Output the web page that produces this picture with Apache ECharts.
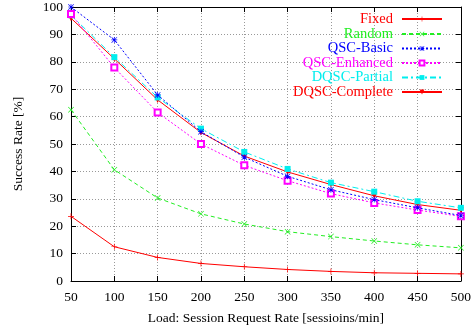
<!DOCTYPE html>
<html><head><meta charset="utf-8">
<script src="https://cdn.jsdelivr.net/npm/echarts@6/dist/echarts.min.js"></script>
<style>html,body{margin:0;padding:0;background:#fff}#c{width:474px;height:333px}</style>
</head><body><div id="c"></div>
<script>
const xValues = [50, 100, 150, 200, 250, 300, 350, 400, 450, 500];
const seriesNames = ['Fixed', 'Random', 'QSC-Basic', 'QSC-Enhanced', 'DQSC-Partial', 'DQSC-Complete'];
const fixed = [23.6, 12.5, 8.6, 6.4, 5.2, 4.2, 3.5, 3.0, 2.8, 2.6];
const random = [62.5, 40.6, 30.3, 24.5, 20.8, 18.0, 16.2, 14.6, 13.2, 12.1];
const qscBasic = [100, 88.0, 67.9, 54.5, 45.2, 38.2, 33.3, 29.7, 26.7, 23.9];
const qscEnhanced = [97.4, 77.9, 61.5, 50.0, 42.2, 36.6, 31.9, 28.5, 25.9, 23.6];
const dqscPartial = [97.0, 81.7, 67.0, 55.6, 47.1, 40.9, 35.9, 32.6, 29.1, 26.7];
const dqscComplete = [95.9, 81.1, 66.1, 54.2, 45.6, 39.8, 35.2, 31.1, 27.9, 25.8];
const yTitle = 'Success Rate [%]';
const xTitle = 'Load: Session Request Rate [sessioins/min]';

const allData = [fixed, random, qscBasic, qscEnhanced, dqscPartial, dqscComplete];
const colors = ['#ff0000', '#22ee22', '#0000ff', '#ff00ff', '#00eeee', '#ff0000'];
const lineTypes = ['solid', [4, 3], [2, 2], [2, 2], [6, 3, 2, 3], 'solid'];
const plusPath = 'path://M4.4,0h1.2v10h-1.2z M0,4.4h10v1.2h-10z';
const crossPath = 'path://M0.8,0L10,9.2L9.2,10L0,0.8z M9.2,0L10,0.8L0.8,10L0,9.2z';
const starPath = 'path://M4.4,0h1.2v10h-1.2z M0,4.4h10v1.2h-10z M0.8,0L10,9.2L9.2,10L0,0.8z M9.2,0L10,0.8L0.8,10L0,9.2z';
const downTriPath = 'path://M0,0L10,0L5,9z';
const symbols = [plusPath, crossPath, starPath, 'emptyRect', 'rect', downTriPath];
const symbolSizes = [6, 6, 6, 6, 6, 6];
const font = 'Liberation Serif';

const series = seriesNames.map((name, i) => ({
  name: name,
  type: 'line',
  data: xValues.map((x, j) => [x, allData[i][j]]),
  symbol: symbols[i],
  symbolSize: symbolSizes[i],
  showAllSymbol: true,
  lineStyle: { color: colors[i], width: 1, type: lineTypes[i] },
  itemStyle: { color: colors[i], borderColor: colors[i], borderWidth: i === 3 ? 1 : 0 },
  emphasis: { disabled: true },
  animation: false,
  z: 10 - i
}));

const legendCenters = [19, 34, 48.5, 63, 77.5, 92];
const legends = seriesNames.map((name, i) => ({
  data: [name],
  right: 31,
  top: legendCenters[i] - 7.5,
  orient: 'vertical',
  align: 'right',
  padding: 0,
  itemWidth: 40,
  itemHeight: 6,
  selectedMode: false,
  textStyle: { color: colors[i], fontFamily: font, fontSize: 14.5, lineHeight: 15, padding: [0, 4, 0, 0] }
}));

const axisCommon = {
  type: 'value',
  axisLine: { show: true, onZero: false, lineStyle: { color: '#000', width: 1 } },
  axisTick: { show: true, inside: true, length: 5, lineStyle: { color: '#000' } },
  axisLabel: { color: '#000', fontFamily: font, fontSize: 13.5 }
};

const option = {
  animation: false,
  backgroundColor: '#fff',
  grid: { left: 71, right: 13, top: 7, bottom: 52, containLabel: false },
  legend: legends,
  xAxis: [
    Object.assign({}, axisCommon, {
      min: 50, max: 500, interval: 50, position: 'bottom',
      name: xTitle, nameLocation: 'middle', nameGap: 30,
      nameTextStyle: { color: '#000', fontFamily: font, fontSize: 13.5 },
      axisLabel: { color: '#000', fontFamily: font, fontSize: 13.5, margin: 9 },
      splitLine: { show: true, lineStyle: { color: '#999', type: [1, 2], width: 1 } }
    }),
    Object.assign({}, axisCommon, {
      min: 50, max: 500, interval: 50, position: 'top',
      axisLabel: { show: false }, splitLine: { show: false }
    })
  ],
  yAxis: [
    Object.assign({}, axisCommon, {
      min: 0, max: 100, interval: 10, position: 'left',
      name: yTitle, nameLocation: 'middle', nameGap: 46, nameRotate: 90,
      nameTextStyle: { color: '#000', fontFamily: font, fontSize: 13.5 },
      axisLabel: { color: '#000', fontFamily: font, fontSize: 13.5, margin: 8 },
      splitLine: { show: true, lineStyle: { color: '#999', type: [1, 2], width: 1 } }
    }),
    Object.assign({}, axisCommon, {
      min: 0, max: 100, interval: 10, position: 'right',
      axisLabel: { show: false }, splitLine: { show: false }
    })
  ],
  series: series
};

const chart = echarts.init(document.getElementById('c'), null, { renderer: 'canvas' });
chart.setOption(option);
</script>
</body></html>
